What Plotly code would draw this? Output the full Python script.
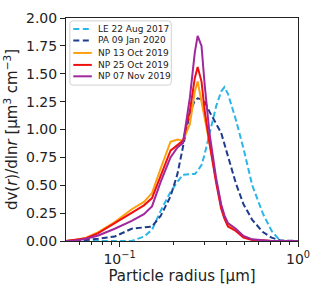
import plotly.graph_objects as go

radius = [0.050, 0.057, 0.065, 0.076, 0.094, 0.117, 0.137, 0.152, 0.170, 0.193,
          0.211, 0.227, 0.248, 0.264, 0.274, 0.288, 0.300, 0.319, 0.348, 0.371,
          0.387, 0.405, 0.448, 0.495, 0.554, 0.636, 0.712, 0.798, 1.000]

le_22aug2017 = [0, 0, 0, 0, 0, 0, 0.04, 0.10, 0.27, 0.44,
                0.53, 0.595, 0.60, 0.60, 0.63, 0.68, 0.78, 0.95, 1.21, 1.34,
                1.38, 1.32, 1.09, 0.83, 0.50, 0.245, 0.09, 0.0, 0.0]
pa_09jan2020 = [0, 0.003, 0.01, 0.02, 0.04, 0.11, 0.125, 0.13, 0.225, 0.40,
                0.60, 0.85, 1.15, 1.26, 1.28, 1.27, 1.25, 1.16, 1.05, 0.97,
                0.87, 0.76, 0.52, 0.33, 0.19, 0.08, 0.03, 0.005, 0.0]
np_13oct2019 = [0, 0.01, 0.03, 0.08, 0.17, 0.285, 0.35, 0.43, 0.65, 0.89,
                0.91, 0.90, 1.05, 1.34, 1.43, 1.26, 1.10, 0.88, 0.54, 0.31,
                0.22, 0.15, 0.10, 0.04, 0.012, 0.003, 0, 0, 0]
np_25oct2019 = [0, 0.01, 0.025, 0.07, 0.16, 0.255, 0.32, 0.385, 0.59, 0.81,
                0.86, 0.90, 1.17, 1.46, 1.56, 1.43, 1.17, 0.88, 0.52, 0.29,
                0.20, 0.13, 0.09, 0.03, 0.01, 0.002, 0, 0, 0]
np_07nov2019 = [0, 0.005, 0.02, 0.05, 0.11, 0.18, 0.24, 0.31, 0.53, 0.75,
                0.84, 0.88, 1.29, 1.69, 1.84, 1.75, 1.40, 0.97, 0.56, 0.33,
                0.23, 0.16, 0.11, 0.045, 0.015, 0.004, 0, 0, 0]

series_names = ["LE 22 Aug 2017", "PA 09 Jan 2020", "NP 13 Oct 2019",
                "NP 25 Oct 2019", "NP 07 Nov 2019"]
series_values = [le_22aug2017, pa_09jan2020, np_13oct2019, np_25oct2019, np_07nov2019]
series_colors = ["#2bb5e8", "#1f3c8c", "#ffa010", "#f01010", "#a0289c"]
series_dash = ["6px,3px", "6px,3px", "solid", "solid", "solid"]

x_major = [0.1, 1.0]
x_major_text = ["10<sup>\u22121</sup>", "10<sup>0</sup>"]
x_minor = [0.06, 0.07, 0.08, 0.09, 0.2, 0.3, 0.4, 0.5, 0.6, 0.7, 0.8, 0.9]
y_ticks = [0, 0.25, 0.5, 0.75, 1.0, 1.25, 1.5, 1.75, 2.0]

W, H = 320, 287
ML, MR, MT, MB = 66, 16, 10, 46
PW, PH = W - ML - MR, H - MT - MB


def px_x(p):
    return (p - ML) / PW


def px_y(p):
    return (H - MB - p) / PH


fig = go.Figure()
for name, vals, col, dash in zip(series_names, series_values, series_colors, series_dash):
    fig.add_trace(go.Scatter(x=radius, y=vals, mode="lines", name=name, showlegend=False,
                             line=dict(color=col, width=2, dash=dash)))

# manual legend (compact, matplotlib-like)
x0, x1, y0, y1, rr = px_x(70), px_x(174), px_y(13), px_y(79.5), 3
rx, ry = rr / PW, rr / PH
path = (f"M {x0+rx},{y0} L {x1-rx},{y0} Q {x1},{y0} {x1},{y0-ry} "
        f"L {x1},{y1+ry} Q {x1},{y1} {x1-rx},{y1} L {x0+rx},{y1} Q {x0},{y1} {x0},{y1+ry} "
        f"L {x0},{y0-ry} Q {x0},{y0} {x0+rx},{y0} Z")
shapes = [dict(type="path", xref="paper", yref="paper", path=path,
               fillcolor="rgba(255,255,255,0.85)", line=dict(color="#d0d0d0", width=1))]
annotations = []
row_y = [21.5, 33.3, 46.2, 58.6, 70.4]
for name, col, dash, ry_px in zip(series_names, series_colors, series_dash, row_y):
    shapes.append(dict(type="line", xref="paper", yref="paper",
                       x0=px_x(73.5), x1=px_x(92.5), y0=px_y(ry_px), y1=px_y(ry_px),
                       line=dict(color=col, width=2, dash="6px,3.5px" if dash != "solid" else "solid")))
    annotations.append(dict(xref="paper", yref="paper", x=px_x(97), y=px_y(ry_px),
                            xanchor="left", yanchor="middle", text=name, showarrow=False,
                            font=dict(size=9, color="#222")))

font = "DejaVu Sans, sans-serif"
fig.update_layout(
    width=W, height=H,
    margin=dict(l=ML, r=MR, t=MT, b=MB),
    paper_bgcolor="white", plot_bgcolor="white",
    font=dict(family=font, size=14, color="#222"),
    showlegend=False,
    shapes=shapes, annotations=annotations,
    xaxis=dict(type="log", range=[-1.30, 0], tickmode="array", tickvals=x_major,
               ticktext=x_major_text, ticks="outside", ticklen=5, tickcolor="#222",
               showgrid=False, zeroline=False, showline=True, linecolor="#222",
               linewidth=1, mirror=True,
               minor=dict(tickmode="array", tickvals=x_minor, ticks="outside",
                          ticklen=3, tickcolor="#222", showgrid=False),
               title=dict(text="Particle radius [\u03bcm]", font=dict(size=15), standoff=0)),
    yaxis=dict(range=[0, 2], tickmode="array", tickvals=y_ticks, tickformat=".2f",
               ticks="outside", ticklen=5, tickcolor="#222", showgrid=False,
               zeroline=False, showline=True, linecolor="#222", linewidth=1, mirror=True,
               title=dict(text="dv(<i>r</i>)/dln<i>r</i> [\u03bcm<sup>3</sup> cm<sup>\u22123</sup>]",
                          font=dict(size=15), standoff=4)),
)

fig.write_html("out.html", config={"displayModeBar": False},
               post_script="document.body.style.margin='0';document.body.style.overflow='hidden';")
